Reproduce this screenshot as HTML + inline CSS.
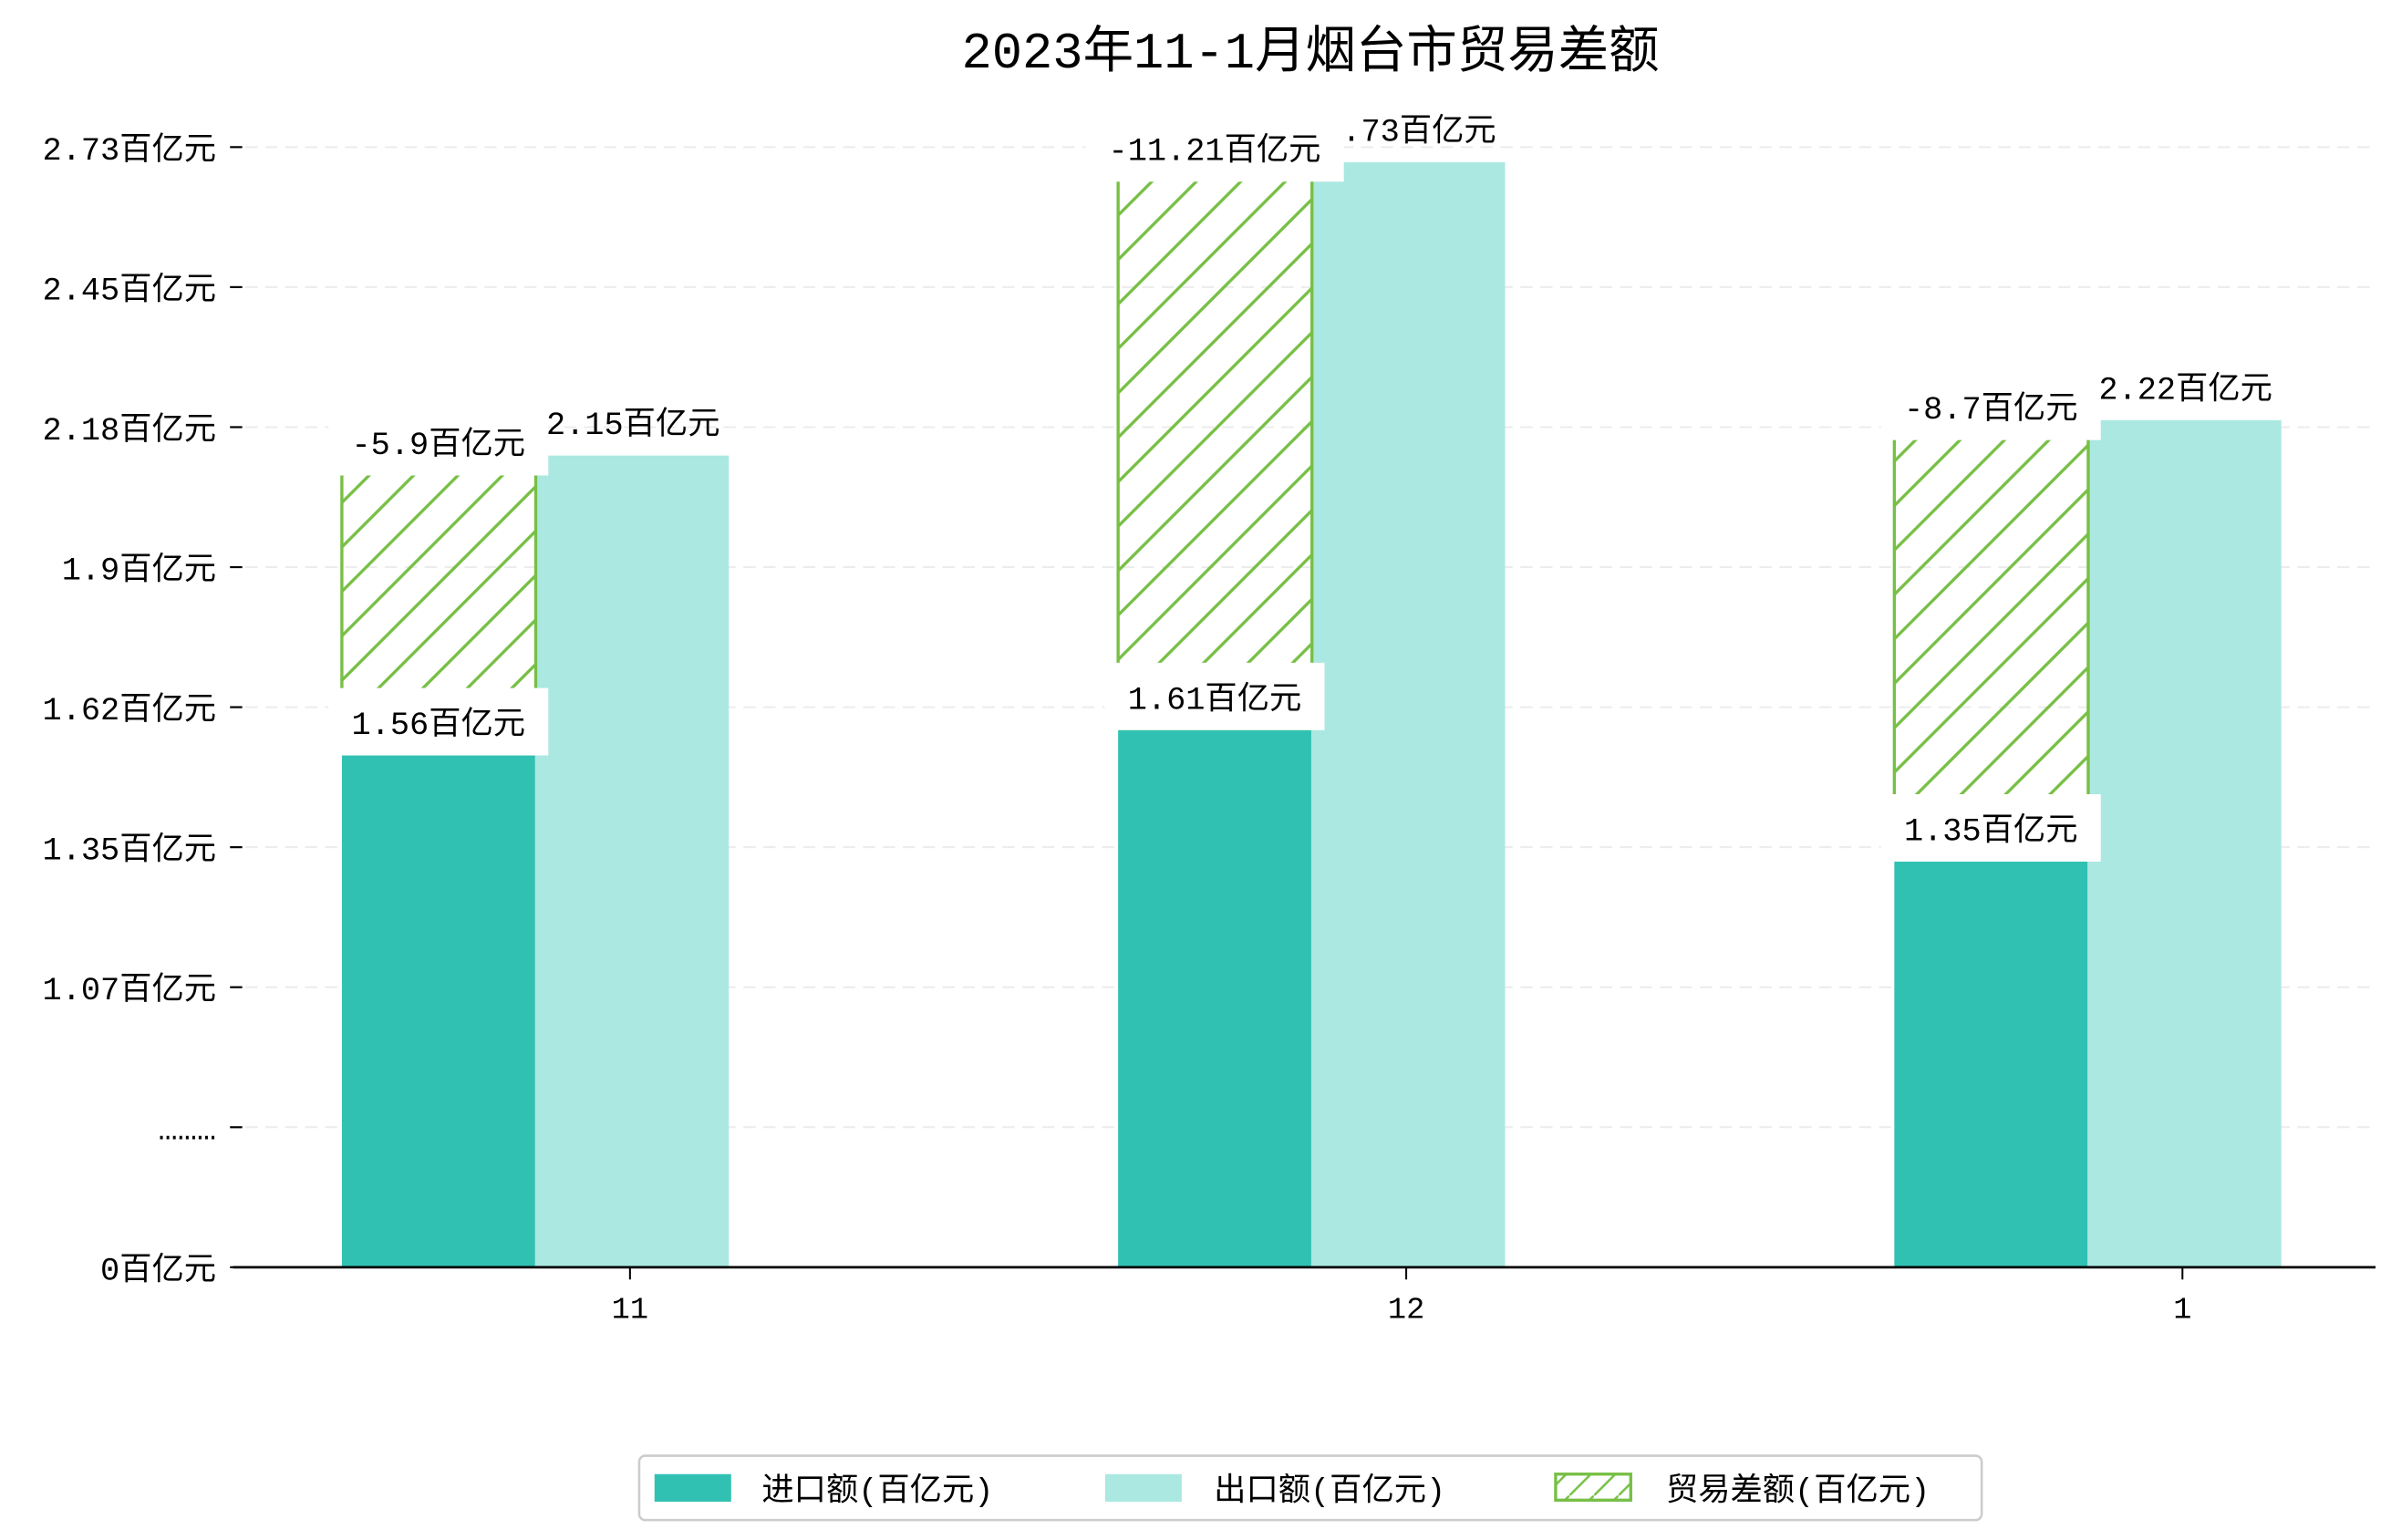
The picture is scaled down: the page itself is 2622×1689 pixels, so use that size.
<!DOCTYPE html>
<html><head><meta charset="utf-8"><style>
html,body{margin:0;padding:0;background:#fff;}
svg{display:block;}
text{font-family:"Liberation Mono","Noto Sans CJK SC","WenQuanYi Zen Hei",monospace;}
</style></head><body>
<svg id="chart" width="2622" height="1689" viewBox="0 0 1560 1005" xmlns="http://www.w3.org/2000/svg">
<defs>
<pattern id="hatch" patternUnits="userSpaceOnUse" width="29" height="29">
<path d="M-7,7 L7,-7 M0,29 L29,0 M22,36 L36,22" stroke="#77bf45" stroke-width="2"/>
</pattern>
<pattern id="hatchL" patternUnits="userSpaceOnUse" width="16" height="16">
<path d="M0,16 L16,0" stroke="#77bf45" stroke-width="1.5"/>
</pattern>
</defs>
<rect width="1560" height="1005" fill="#fff"/>
<text x="855" y="44" font-size="33" text-anchor="middle">2023年11-1月烟台市贸易差额</text>
<g id="grid"></g><g id="bars"></g><g id="labels"></g><g id="axes"></g>
<g>
<rect x="417" y="950" width="876" height="42" rx="4" fill="#fff" stroke="#cccccc" stroke-width="1.5"/>
<rect x="427" y="962" width="50" height="18" fill="#31c1b3"/>
<text x="497" y="979" font-size="21">进口额(百亿元)</text>
<rect x="721" y="962" width="50" height="18" fill="#abe8e2"/>
<text x="792" y="979" font-size="21">出口额(百亿元)</text>
<rect x="1015" y="962" width="49" height="17" fill="url(#hatchL)" stroke="#77bf45" stroke-width="2"/>
<text x="1087" y="979" font-size="21">贸易差额(百亿元)</text>
</g>
</svg>
<script>
const categories = ["11", "12", "1"];
const importValues = [1.56, 1.61, 1.35];
const exportValues = [2.15, 2.73, 2.22];
const balanceValues = [-5.9, -11.21, -8.7];
const yTickLabels = ["0百亿元", "………", "1.07百亿元", "1.35百亿元", "1.62百亿元", "1.9百亿元", "2.18百亿元", "2.45百亿元", "2.73百亿元"];

const NS = "http://www.w3.org/2000/svg";
const baseY = 827, topTickY = 96, plotL = 152, plotR = 1550;
function y(v){ return 96 + (2.76 - v) * 330; }
function tickY(i){ return baseY - i * (baseY - topTickY) / (yTickLabels.length - 1); }
function xCenter(i){ return 411 + i * 506.5; }
const bw = 126.5;
function mk(tag, attrs, parent, txt){
  const e = document.createElementNS(NS, tag);
  for (const k in attrs) e.setAttribute(k, attrs[k]);
  if (txt !== undefined) e.textContent = txt;
  parent.appendChild(e);
  return e;
}
const grid = document.getElementById('grid'), bars = document.getElementById('bars'),
      labels = document.getElementById('labels'), axes = document.getElementById('axes');

yTickLabels.forEach((lab, i) => {
  const ty = tickY(i);
  if (i > 0) {
    const g = mk('line', {x1:160, x2:plotR, y1:ty, y2:ty, stroke:'#ececec', 'stroke-width':1.2, 'stroke-dasharray':'8,5'}, grid);
    
    
  }
  const t = mk('line', {x1:150, x2:158, y1:ty, y2:ty, stroke:'#000', 'stroke-width':1.3}, axes);
  
  
  const l = mk('text', {x:141, y:ty + 8, 'font-size':21, 'text-anchor':'end'}, axes, lab);
  
  
});

function labelBox(cx, cy, txt, name){
  const half = txt.replace(/[百亿元]/g, '').length;
  const w = half * 12.6 + 3 * 21 + 30;
  const r = mk('rect', {x:cx - w/2, y:cy - 22, width:w, height:44, fill:'#fff'}, labels);
  
  
  const t = mk('text', {x:cx, y:cy + 8, 'font-size':21, 'text-anchor':'middle'}, labels, txt);
  
  
}

categories.forEach((c, i) => {
  const cx = xCenter(i);
  const iTop = y(importValues[i]), eTop = y(exportValues[i]);
  const dTop = y(importValues[i] + Math.abs(balanceValues[i]) / 10) + 11;
  const ib = mk('rect', {x:cx - 188, y:iTop, width:bw, height:baseY - iTop, fill:'#31c1b3'}, bars);
  
  
  const eb = mk('rect', {x:cx - 62, y:eTop, width:bw, height:baseY - eTop, fill:'#abe8e2'}, bars);
  
  
  const db = mk('rect', {x:cx - 188, y:dTop, width:bw, height:iTop - dTop, fill:'url(#hatch)', stroke:'#77bf45', 'stroke-width':2}, bars);
  
  
  const et = mk('text', {x:cx + 2, y:eTop - 14, 'font-size':21, 'text-anchor':'middle'}, labels, exportValues[i] + '百亿元');
  
  
  labelBox(cx - 125, dTop - 20, balanceValues[i] + '百亿元', 'balance-value-label');
  labelBox(cx - 125, iTop - 21, importValues[i] + '百亿元', 'import-value-label');
  const xt = mk('line', {x1:cx, x2:cx, y1:baseY, y2:baseY + 8, stroke:'#000', 'stroke-width':1.2}, axes);
  
  
  const xl = mk('text', {x:cx, y:860, 'font-size':20, 'text-anchor':'middle'}, axes, c);
  
  
});
const xa = mk('line', {x1:plotL, x2:plotR, y1:baseY, y2:baseY, stroke:'#000', 'stroke-width':1.6}, axes);


</script>
</body></html>
